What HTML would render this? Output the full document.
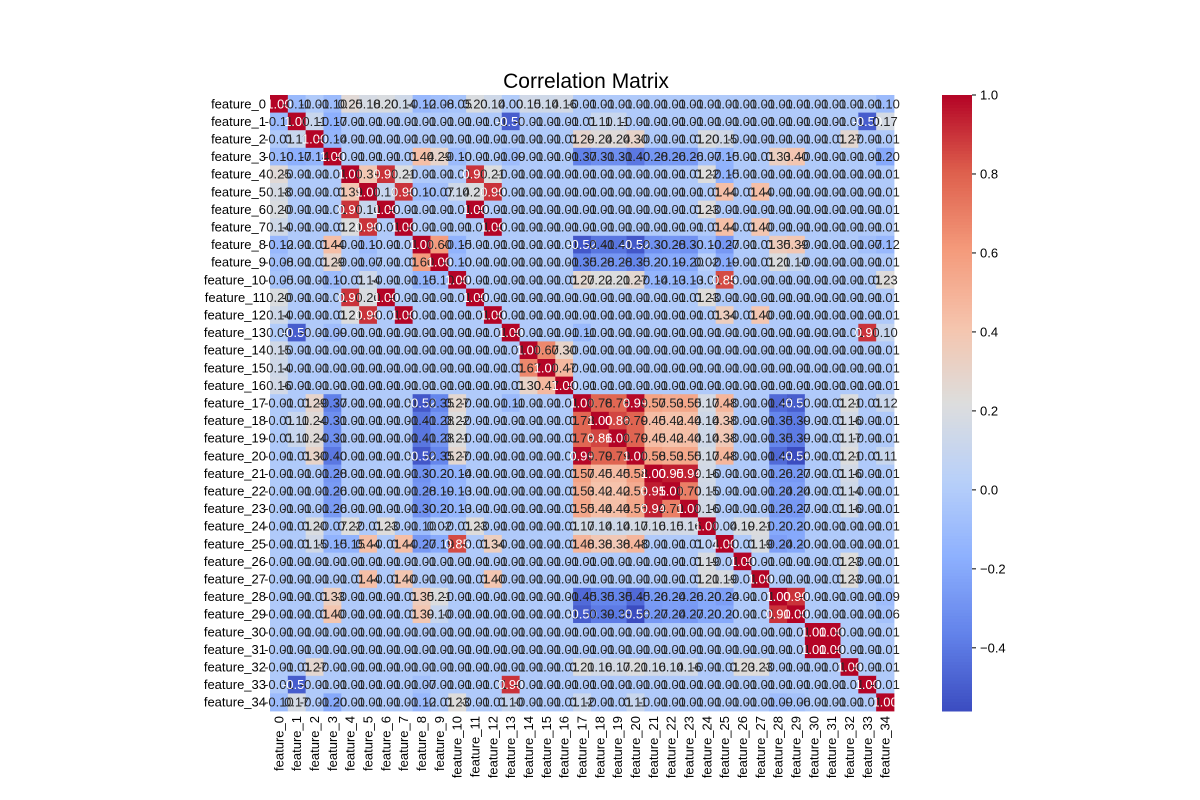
<!DOCTYPE html>
<html><head><meta charset="utf-8">
<style>
html,body{margin:0;padding:0;background:#fff;}
svg{display:block;font-family:"Liberation Sans","DejaVu Sans",sans-serif;}
</style></head>
<body>
<svg id="chart" width="1200" height="800" viewBox="0 0 1200 800" xmlns="http://www.w3.org/2000/svg">
<text x="586" y="88" text-anchor="middle" font-size="21">Correlation Matrix</text>
<g id="cells"></g>
<g id="annots"></g>
<g id="ylabels"></g>
<g id="xlabels"></g>
<g id="cbar"></g>
</svg>
<script>
const features = Array.from({length:35},(_,i)=>'feature_'+i);
const baseline = -0.01;
const corrPairs = [
[0,1,-0.11],[0,2,-0.01],[0,3,-0.10],[0,4,0.25],[0,5,0.18],[0,6,0.20],[0,7,0.14],[0,8,-0.12],[0,9,-0.08],[0,10,-0.05],[0,11,0.20],[0,12,0.14],[0,13,0.00],[0,14,0.15],[0,15,0.14],[0,16,0.16],[0,34,-0.10],
[1,2,0.11],[1,3,-0.17],[1,13,-0.50],[1,33,-0.50],[1,34,0.17],[1,18,0.11],[1,19,0.11],
[2,3,-0.14],[2,17,0.29],[2,18,0.24],[2,19,0.24],[2,20,0.30],[2,32,0.27],[2,25,0.15],[2,24,0.20],
[3,8,0.44],[3,9,0.29],[3,17,-0.37],[3,18,-0.31],[3,19,-0.31],[3,20,-0.40],[3,21,-0.28],[3,22,-0.26],[3,23,-0.26],[3,24,-0.07],[3,25,-0.15],[3,28,0.33],[3,29,0.40],[3,34,-0.20],[3,10,-0.10],[3,13,-0.09],
[4,5,0.39],[4,6,0.90],[4,7,0.21],[4,11,0.90],[4,12,0.21],[4,24,0.22],[4,25,-0.15],
[5,6,0.10],[5,7,0.90],[5,11,0.20],[5,12,0.90],[5,25,0.44],[5,27,0.44],[5,8,-0.10],[5,9,-0.07],[5,10,0.14],
[6,7,-0.01],[6,11,1.00],[6,12,-0.01],[6,24,0.23],
[7,11,-0.01],[7,12,1.00],[7,25,0.44],[7,27,0.40],
[8,9,0.60],[8,10,-0.15],[8,17,-0.52],[8,18,-0.41],[8,19,-0.41],[8,20,-0.52],[8,21,-0.30],[8,22,-0.28],[8,23,-0.30],[8,24,-0.10],[8,25,-0.27],[8,28,0.35],[8,29,0.39],[8,33,-0.07],[8,34,-0.12],
[9,10,-0.10],[9,17,-0.35],[9,18,-0.28],[9,19,-0.28],[9,20,-0.35],[9,21,-0.20],[9,22,-0.19],[9,23,-0.20],[9,24,0.02],[9,25,-0.19],[9,28,0.21],[9,29,0.10],
[10,17,0.27],[10,18,0.22],[10,19,0.21],[10,20,0.27],[10,25,0.85],[10,34,0.23],[10,21,-0.14],[10,22,-0.13],[10,23,-0.13],
[11,24,0.23],
[12,25,0.34],[12,27,0.40],
[13,33,0.90],[13,34,0.10],[13,17,-0.11],
[14,15,0.67],[14,16,0.30],[15,16,0.47],
[17,18,0.78],[17,19,0.78],[17,20,0.99],[17,21,0.57],[17,22,0.53],[17,23,0.55],[17,24,0.17],[17,25,0.48],[17,28,-0.45],[17,29,-0.50],[17,32,0.21],[17,34,0.12],
[18,19,0.86],[18,20,0.79],[18,21,0.45],[18,22,0.42],[18,23,0.44],[18,24,0.14],[18,25,0.38],[18,28,-0.35],[18,29,-0.39],[18,32,0.16],
[19,20,0.79],[19,21,0.45],[19,22,0.42],[19,23,0.44],[19,24,0.14],[19,25,0.38],[19,28,-0.35],[19,29,-0.39],[19,32,0.17],
[20,21,0.58],[20,22,0.53],[20,23,0.55],[20,24,0.17],[20,25,0.48],[20,28,-0.45],[20,29,-0.56],[20,32,0.21],[20,34,0.11],
[21,22,0.95],[21,23,0.94],[21,24,0.16],[21,28,-0.26],[21,29,-0.27],[21,32,0.16],
[22,23,0.70],[22,24,0.15],[22,28,-0.24],[22,29,-0.24],[22,32,0.14],
[23,24,0.16],[23,28,-0.26],[23,29,-0.27],[23,32,0.16],
[24,25,0.04],[24,28,-0.20],[24,29,-0.20],[24,26,0.19],[24,27,0.21],
[25,28,-0.24],[25,29,-0.20],[25,27,0.19],
[26,32,0.23],[27,32,0.23],
[28,29,0.90],[28,34,-0.09],[29,34,-0.06],
[30,31,1.00]
];
const cbTicks = [-0.4,-0.2,0.0,0.2,0.4,0.6,0.8,1.0];

const N = features.length;
const M = [];
for(let i=0;i<N;i++){M.push([]);for(let j=0;j<N;j++)M[i].push(i===j?1:baseline);}
corrPairs.forEach(([i,j,v])=>{M[i][j]=v;M[j][i]=v;});
let vmin=Infinity,vmax=-Infinity;
M.forEach(r=>r.forEach(v=>{vmin=Math.min(vmin,v);vmax=Math.max(vmax,v);}));

const stops=[[0,[59,76,192]],[0.125,[98,130,234]],[0.25,[141,176,254]],[0.375,[184,208,249]],[0.5,[221,221,221]],[0.625,[245,196,173]],[0.75,[244,154,123]],[0.875,[222,96,77]],[1,[180,4,38]]];
function cmap(t){t=Math.max(0,Math.min(1,t));for(let k=1;k<stops.length;k++){if(t<=stops[k][0]){const a=stops[k-1],b=stops[k];const f=(t-a[0])/(b[0]-a[0]);return a[1].map((c,m)=>Math.round(c+(b[1][m]-c)*f));}}return stops[stops.length-1][1];}
function norm(v){return (v-vmin)/(vmax-vmin);}

const X0=270,Y0=95,W=624,H=616,cw=W/N,ch=H/N;
const xS=j=>X0+j*cw, yS=i=>Y0+i*ch;
const NS='http://www.w3.org/2000/svg';
const gc=document.getElementById('cells'),ga=document.getElementById('annots');
for(let i=0;i<N;i++)for(let j=0;j<N;j++){
  const v=M[i][j];const c=cmap(norm(v));
  const r=document.createElementNS(NS,'rect');
  r.setAttribute('x',xS(j));r.setAttribute('y',yS(i));r.setAttribute('width',cw+0.4);r.setAttribute('height',ch+0.4);
  r.setAttribute('fill','rgb('+c.join(',')+')');
  
  
  gc.appendChild(r);
  const lum=(0.2126*c[0]+0.7152*c[1]+0.0722*c[2])/255;
  const t=document.createElementNS(NS,'text');
  t.setAttribute('x',xS(j)+cw/2);t.setAttribute('y',yS(i)+ch/2+4.5);
  t.setAttribute('text-anchor','middle');t.setAttribute('font-size','13');
  t.setAttribute('fill',lum<0.42?'#fff':'#262626');
  t.textContent=v.toFixed(2);
  
  
  ga.appendChild(t);
}
const gy=document.getElementById('ylabels'),gx=document.getElementById('xlabels');
features.forEach((f,i)=>{
  const t=document.createElementNS(NS,'text');
  t.setAttribute('x',X0-4);t.setAttribute('y',yS(i)+ch/2+4.5);t.setAttribute('text-anchor','end');t.setAttribute('font-size','13');
  t.textContent=f;
  
  
  gy.appendChild(t);
  const tx=document.createElementNS(NS,'text');
  const cx=xS(i)+cw/2+4.5;
  tx.setAttribute('x',cx);tx.setAttribute('y',Y0+H+5);tx.setAttribute('text-anchor','end');tx.setAttribute('font-size','13');
  tx.setAttribute('transform','rotate(-90 '+cx+' '+(Y0+H+5)+')');
  tx.textContent=f;
  
  
  gx.appendChild(tx);
});
const gb=document.getElementById('cbar');
const CBX=942,CBW=30;
const cbY=v=>Y0+H-(v-vmin)/(vmax-vmin)*H;
for(let k=0;k<200;k++){
  const r=document.createElementNS(NS,'rect');
  const t0=k/200;
  r.setAttribute('x',CBX);r.setAttribute('y',Y0+H-(k+1)*H/200);r.setAttribute('width',CBW);r.setAttribute('height',H/200+0.5);
  r.setAttribute('fill','rgb('+cmap(t0+0.0025).join(',')+')');
  
  
  gb.appendChild(r);
}
cbTicks.forEach(v=>{
  if(v<vmin||v>vmax)return;
  const y=cbY(v);
  const l=document.createElementNS(NS,'line');
  l.setAttribute('x1',CBX+CBW);l.setAttribute('x2',CBX+CBW+4);l.setAttribute('y1',y);l.setAttribute('y2',y);l.setAttribute('stroke','#000');
  
  
  gb.appendChild(l);
  const t=document.createElementNS(NS,'text');
  t.setAttribute('x',CBX+CBW+8);t.setAttribute('y',y+4.5);t.setAttribute('font-size','13');
  t.textContent=(v<0?'\u2212':'')+Math.abs(v).toFixed(1);
  
  
  gb.appendChild(t);
});
</script>
</body></html>
